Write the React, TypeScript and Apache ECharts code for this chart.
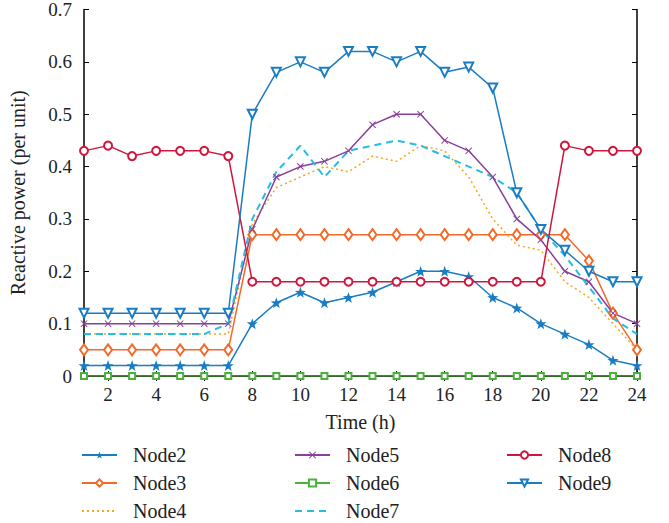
import React, { useEffect, useRef } from "react";
import * as echarts from "echarts";

const hours = [1, 2, 3, 4, 5, 6, 7, 8, 9, 10, 11, 12, 13, 14, 15, 16, 17, 18, 19, 20, 21, 22, 23, 24];
const xTicks = [2, 4, 6, 8, 10, 12, 14, 16, 18, 20, 22, 24];

const node2 = [0.02, 0.02, 0.02, 0.02, 0.02, 0.02, 0.02, 0.10, 0.14, 0.16, 0.14, 0.15, 0.16, 0.18, 0.20, 0.20, 0.19, 0.15, 0.13, 0.10, 0.08, 0.06, 0.03, 0.02];
const node3 = [0.05, 0.05, 0.05, 0.05, 0.05, 0.05, 0.05, 0.27, 0.27, 0.27, 0.27, 0.27, 0.27, 0.27, 0.27, 0.27, 0.27, 0.27, 0.27, 0.27, 0.27, 0.22, 0.12, 0.05];
const node4 = [0.08, 0.08, 0.08, 0.08, 0.08, 0.08, 0.08, 0.29, 0.36, 0.38, 0.40, 0.39, 0.42, 0.41, 0.44, 0.43, 0.38, 0.30, 0.25, 0.24, 0.18, 0.15, 0.10, 0.05];
const node5 = [0.10, 0.10, 0.10, 0.10, 0.10, 0.10, 0.10, 0.28, 0.38, 0.40, 0.41, 0.43, 0.48, 0.50, 0.50, 0.45, 0.43, 0.38, 0.30, 0.26, 0.20, 0.18, 0.12, 0.10];
const node6 = [0, 0, 0, 0, 0, 0, 0, 0, 0, 0, 0, 0, 0, 0, 0, 0, 0, 0, 0, 0, 0, 0, 0, 0];
const node7 = [0.08, 0.08, 0.08, 0.08, 0.08, 0.08, 0.10, 0.30, 0.39, 0.44, 0.38, 0.43, 0.44, 0.45, 0.44, 0.42, 0.40, 0.38, 0.35, 0.28, 0.23, 0.17, 0.11, 0.08];
const node8 = [0.43, 0.44, 0.42, 0.43, 0.43, 0.43, 0.42, 0.18, 0.18, 0.18, 0.18, 0.18, 0.18, 0.18, 0.18, 0.18, 0.18, 0.18, 0.18, 0.18, 0.44, 0.43, 0.43, 0.43];
const node9 = [0.12, 0.12, 0.12, 0.12, 0.12, 0.12, 0.12, 0.50, 0.58, 0.60, 0.58, 0.62, 0.62, 0.60, 0.62, 0.58, 0.59, 0.55, 0.35, 0.28, 0.24, 0.20, 0.18, 0.18];

const legendNames = ["Node2", "Node3", "Node4", "Node5", "Node6", "Node7", "Node8", "Node9"];

const STAR = "path://M0,-10L2.35,-3.24L9.51,-3.09L3.8,1.24L5.88,8.09L0,4L-5.88,8.09L-3.8,1.24L-9.51,-3.09L-2.35,-3.24Z";
const XMARK = "path://M0,1L1,0L5,4L9,0L10,1L6,5L10,9L9,10L5,6L1,10L0,9L4,5Z";

const FONT = "'Liberation Serif', 'Times New Roman', serif";

export default function App() {
  const ref = useRef<HTMLDivElement>(null);
  useEffect(() => {
    if (!ref.current) return;
    const chart = echarts.init(ref.current, undefined, { renderer: "svg" });
    const pts = (arr: number[]) => hours.map((h, i) => [h, arr[i]]);
    const mk = (name: string, arr: number[], color: string, symbol: string, size: any, lineType: any = "solid", extra: any = {}) => ({
      name,
      type: "line",
      data: pts(arr),
      symbol,
      symbolSize: size,
      showSymbol: symbol !== "none",
      lineStyle: { color, width: 1.5, type: lineType },
      itemStyle: { color, borderWidth: 1.1 },
      emphasis: { disabled: true },
      ...extra,
    });
    const colLeft = [81, 294, 506];
    const rowTop = [445, 473, 501];
    const legends = legendNames.map((n, i) => {
      const col = Math.floor(i / 3);
      const row = i % 3;
      const dataItem: any = { name: n };
      if (n === "Node4" || n === "Node7") dataItem.itemStyle = { opacity: 0 };
      return {
        left: colLeft[col],
        top: rowTop[row],
        padding: 0,
        itemWidth: 35,
        itemHeight: 9,
        data: [dataItem],
        textStyle: { fontFamily: FONT, fontSize: 20, color: "#222", padding: [0, 0, 0, 11], lineHeight: 20 },
      };
    });
    chart.setOption({
      animation: false,
      backgroundColor: "#fff",
      grid: { left: 83, right: 32, top: 9, bottom: 147 },
      legend: legends,
      xAxis: [
        {
          type: "value",
          min: 1,
          max: 24,
          name: "Time (h)",
          nameLocation: "middle",
          nameGap: 36,
          nameTextStyle: { fontFamily: FONT, fontSize: 20, color: "#222" },
          axisLine: { lineStyle: { color: "#000", width: 1.5 } },
          axisTick: { inside: true, length: 5, customValues: xTicks, lineStyle: { color: "#000" } },
          axisLabel: { customValues: xTicks, fontFamily: FONT, fontSize: 19, color: "#222", margin: 9 },
          splitLine: { show: false },
        },
        {
          type: "value",
          min: 1,
          max: 24,
          position: "top",
          axisLine: { lineStyle: { color: "#000", width: 1.5 } },
          axisTick: { inside: true, length: 5, customValues: xTicks, lineStyle: { color: "#000" } },
          axisLabel: { show: false },
          splitLine: { show: false },
        },
      ],
      yAxis: [
        {
          type: "value",
          min: 0,
          max: 0.7,
          interval: 0.1,
          name: "Reactive power (per unit)",
          nameLocation: "middle",
          nameGap: 56,
          nameTextStyle: { fontFamily: FONT, fontSize: 20, color: "#222" },
          axisLine: { show: true, lineStyle: { color: "#000", width: 1.5 } },
          axisTick: { show: true, inside: true, length: 5, lineStyle: { color: "#000" } },
          axisLabel: { fontFamily: FONT, fontSize: 19, color: "#222", margin: 12, formatter: (v: number) => (v === 0 ? "0" : v.toFixed(1)) },
          splitLine: { show: false },
        },
        {
          type: "value",
          min: 0,
          max: 0.7,
          interval: 0.1,
          position: "right",
          axisLine: { show: true, lineStyle: { color: "#000", width: 1.5 } },
          axisTick: { show: true, inside: true, length: 5, lineStyle: { color: "#000" } },
          axisLabel: { show: false },
          splitLine: { show: false },
        },
      ],
      series: [
        mk("Node6", node6, "#4daf3e", "emptyRect", 6, "solid", { z: 2 }),
        mk("Node2", node2, "#1a7dc4", STAR, 11),
        mk("Node3", node3, "#f26a2a", "emptyDiamond", [8, 11]),
        mk("Node4", node4, "#f8a51f", "none", 0, [2, 3]),
        mk("Node5", node5, "#8a3f9a", XMARK, 7),
        mk("Node7", node7, "#27bde3", "none", 0, [7, 5], { lineStyle: { color: "#27bde3", width: 2, type: [7, 5] } }),
        mk("Node8", node8, "#d0163c", "emptyCircle", 8),
        mk("Node9", node9, "#1a7dc4", "emptyTriangle", 9, "solid", { symbolRotate: 180 }),
      ],
    });
    return () => chart.dispose();
  }, []);
  return <div ref={ref} style={{ width: 669, height: 523, position: "absolute", left: 0, top: 0 }} />;
}
